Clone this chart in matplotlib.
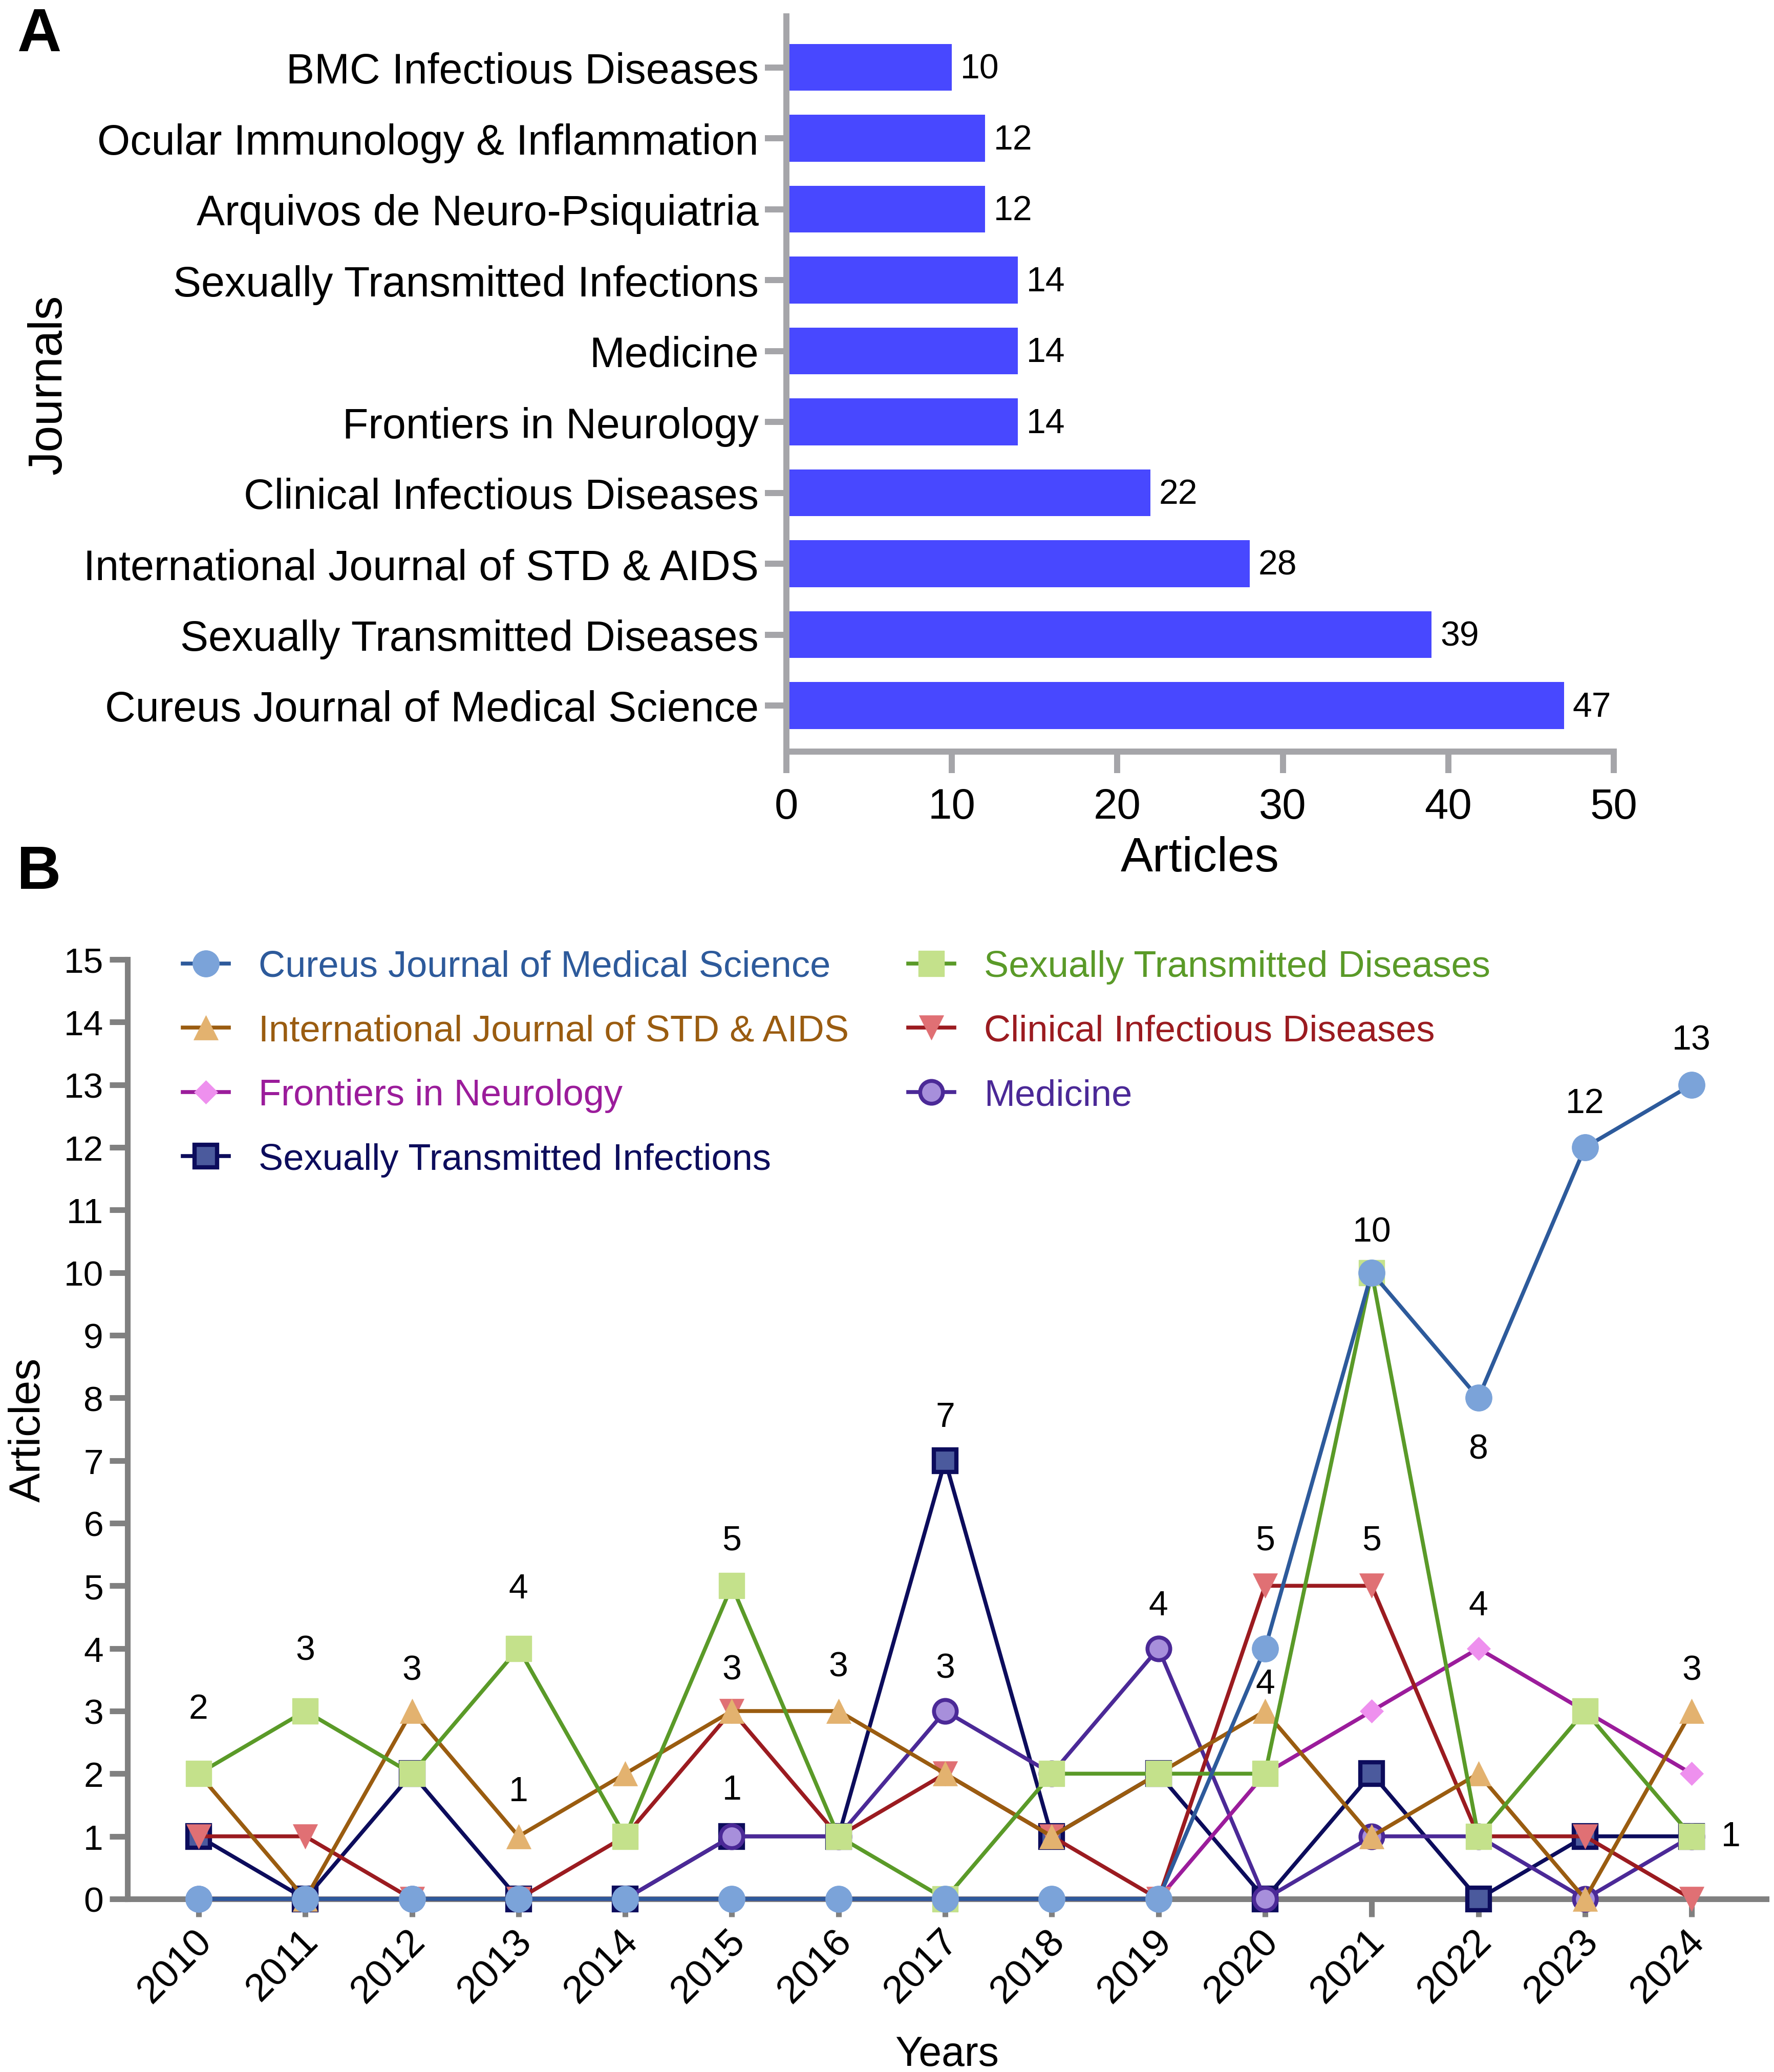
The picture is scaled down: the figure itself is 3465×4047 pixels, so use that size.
import matplotlib
matplotlib.use("Agg")
import matplotlib.pyplot as plt
import matplotlib.transforms as mtransforms
import numpy as np

plt.rcParams['font.family'] = ['Liberation Sans', 'DejaVu Sans']

# ---------------- DATA ----------------
journals = ["BMC Infectious Diseases", "Ocular Immunology & Inflammation",
            "Arquivos de Neuro-Psiquiatria", "Sexually Transmitted Infections",
            "Medicine", "Frontiers in Neurology", "Clinical Infectious Diseases",
            "International Journal of STD & AIDS", "Sexually Transmitted Diseases",
            "Cureus Journal of Medical Science"]
journal_counts = [10, 12, 12, 14, 14, 14, 22, 28, 39, 47]

years = [2010, 2011, 2012, 2013, 2014, 2015, 2016, 2017, 2018, 2019, 2020, 2021, 2022, 2023, 2024]
cureus = [0, 0, 0, 0, 0, 0, 0, 0, 0, 0, 4, 10, 8, 12, 13]
std_dis = [2, 3, 2, 4, 1, 5, 1, 0, 2, 2, 2, 10, 1, 3, 1]
ijstd = [2, 0, 3, 1, 2, 3, 3, 2, 1, 2, 3, 1, 2, 0, 3]
clinical = [1, 1, 0, 0, 1, 3, 1, 2, 1, 0, 5, 5, 1, 1, 0]
frontiers = [0, 0, 0, 0, 0, 0, 0, 0, 0, 0, 2, 3, 4, 3, 2]
medicine = [0, 0, 0, 0, 0, 1, 1, 3, 2, 4, 0, 1, 1, 0, 1]
sti = [1, 0, 2, 0, 0, 1, 1, 7, 1, 2, 0, 2, 0, 1, 1]

series_names = ["Cureus Journal of Medical Science", "Sexually Transmitted Diseases",
                "International Journal of STD & AIDS", "Clinical Infectious Diseases",
                "Frontiers in Neurology", "Medicine", "Sexually Transmitted Infections"]
series_values = [cureus, std_dis, ijstd, clinical, frontiers, medicine, sti]

# value labels on panel B: year, labelled value
ann_years = [2010, 2011, 2012, 2013, 2013, 2015, 2015, 2015, 2016, 2017, 2017, 2019,
             2020, 2020, 2021, 2021, 2022, 2022, 2023, 2024, 2024, 2024]
ann_values = [2, 3, 3, 4, 1, 5, 3, 1, 3, 7, 3, 4, 5, 4, 10, 5, 8, 4, 12, 13, 3, 1]

# ---------------- STYLE ----------------
ann_dy = [1.03, 0.97, 0.65, 0.95, 0.72, 0.73, 0.66, 0.74, 0.71, 0.69, 0.68, 0.68,
          0.73, -0.57, 0.65, 0.73, -0.82, 0.68, 0.70, 0.71, 0.65, 0.0]
ann_dx = [0] * 21 + [0.37]

styles = [
    dict(marker='o', ms=37, mfc='#7BA3D9', mec='#7BA3D9', mew=1, color='#2D5A9B', txt='#2D5A9B'),
    dict(marker='s', ms=36, mfc='#C4E18B', mec='#C4E18B', mew=1, color='#5A9A28', txt='#5A9A28'),
    dict(marker='^', ms=35, mfc='#E3B26F', mec='#E3B26F', mew=0.5, color='#9A5C10', txt='#9A5C10'),
    dict(marker='v', ms=35, mfc='#E07074', mec='#E07074', mew=0.5, color='#9B1B20', txt='#9B1B20'),
    dict(marker='D', ms=23, mfc='#EE90EE', mec='#EE90EE', mew=0.5, color='#9B1C9B', txt='#9B1C9B'),
    dict(marker='o', ms=32, mfc='#A78FDB', mec='#4B2997', mew=5.5, color='#4B2997', txt='#4B2997'),
    dict(marker='s', ms=32, mfc='#4B5A9D', mec='#0C0C5C', mew=6, color='#0C0C5C', txt='#0C0C5C'),
]

W, H = 3465, 4048
DPI = 100
fig = plt.figure(figsize=(W / DPI, H / DPI), dpi=DPI)

# ---------------- PANEL A ----------------
axA = fig.add_axes([1536 / W, 1 - 1469 / H, (3152 - 1536) / W, (1469 - 33) / H])
ypos = np.arange(len(journals))[::-1]
bars = axA.barh(ypos, journal_counts, height=0.66, color='#4848FF', edgecolor='none', zorder=2)
for b, v in zip(bars, journal_counts):
    axA.annotate(str(v), (b.get_width(), b.get_y() + b.get_height() / 2),
                 xytext=(12, -2), textcoords='offset points', ha='left', va='center',
                 fontsize=49, color='black')
axA.set_xlim(0, 50)
axA.set_ylim(-0.65, 9.72)
axA.set_yticks(ypos)
axA.set_yticklabels(journals, fontsize=59.5)
axA.set_xticks(range(0, 51, 10))
axA.tick_params(axis='x', labelsize=60, length=30, width=8.6, color='#A5A5A9', pad=20)
axA.tick_params(axis='y', length=30, width=8.6, color='#A5A5A9', pad=9)
for s in ['top', 'right']:
    axA.spines[s].set_visible(False)
for s in ['left', 'bottom']:
    axA.spines[s].set_color('#A5A5A9')
    axA.spines[s].set_linewidth(8.6)
axA.set_xlabel('Articles', fontsize=68)
axA.xaxis.set_label_coords(0.5, (1469 - 1702) / (1469 - 33))
axA.xaxis.label.set_va('baseline')
axA.set_ylabel('Journals', fontsize=67)
axA.yaxis.label.set_va('baseline')
axA.yaxis.label.set_rotation_mode('anchor')
axA.yaxis.set_label_coords((120 - 1536) / (3152 - 1536), 0.5)

fig.text(33 / W, 1 - 100 / H, 'A', fontsize=86, fontweight='bold', ha='left', va='baseline')
fig.text(33 / W, 1 - 1736 / H, 'B', fontsize=86, fontweight='bold', ha='left', va='baseline')

# ---------------- PANEL B ----------------
axB = fig.add_axes([249 / W, 1 - 3710 / H, (3450 - 249) / W, (3710 - 1875) / H])
handles = []
n = len(series_names)
for i, (name, vals, st) in enumerate(zip(series_names, series_values, styles)):
    ln, = axB.plot(years, vals, color=st['color'], lw=5.5, marker=st['marker'], ms=st['ms'],
                   mfc=st['mfc'], mec=st['mec'], mew=st['mew'], label=name,
                   zorder=10 + (n - i), clip_on=False)
    handles.append(ln)

for yr, v, dx, dy in zip(ann_years, ann_values, ann_dx, ann_dy):
    axB.text(yr + dx, v + dy, str(v), ha='center', va='center', fontsize=49,
             color='black', zorder=30)

axB.set_xlim(2009.333, 2024.70)
axB.set_ylim(0, 15)
axB.set_yticks(range(0, 16))
axB.set_xticks(years)
axB.set_xticklabels([str(y) for y in years], rotation=45, ha='right', va='center',
                    rotation_mode='anchor')
axB.tick_params(axis='y', labelsize=50, length=25, width=8, color='#808080', pad=9)
axB.tick_params(axis='x', labelsize=55, length=25, width=8, color='#808080', pad=26)
shift = mtransforms.ScaledTranslation(14 / DPI, 0, fig.dpi_scale_trans)
for lab in axB.get_xticklabels():
    lab.set_transform(lab.get_transform() + shift)
for s in ['top', 'right']:
    axB.spines[s].set_visible(False)
for s in ['left', 'bottom']:
    axB.spines[s].set_color('#808080')
    axB.spines[s].set_linewidth(8)
axB.set_xlabel('Years', fontsize=58)
axB.xaxis.set_label_coords(0.5, (3710 - 4035) / (3710 - 1875))
axB.xaxis.label.set_va('baseline')
axB.set_ylabel('Articles', fontsize=62)
axB.yaxis.label.set_va('baseline')
axB.yaxis.label.set_rotation_mode('anchor')
axB.yaxis.set_label_coords((78 - 249) / (3450 - 249), 0.5)

order = [0, 2, 4, 6, 1, 3, 5]
leg = fig.legend([handles[k] for k in order], [series_names[k] for k in order],
                 ncol=2, loc='upper left', bbox_to_anchor=(357 / W, 1 - 1856 / H),
                 bbox_transform=fig.transFigure, frameon=False, fontsize=52,
                 handlelength=1.25, handletextpad=0.8, columnspacing=1.6,
                 labelspacing=0.81, borderpad=0, borderaxespad=0)
for t, k in zip(leg.get_texts(), order):
    t.set_color(styles[k]['txt'])

fig.savefig('out.png', dpi=DPI)
